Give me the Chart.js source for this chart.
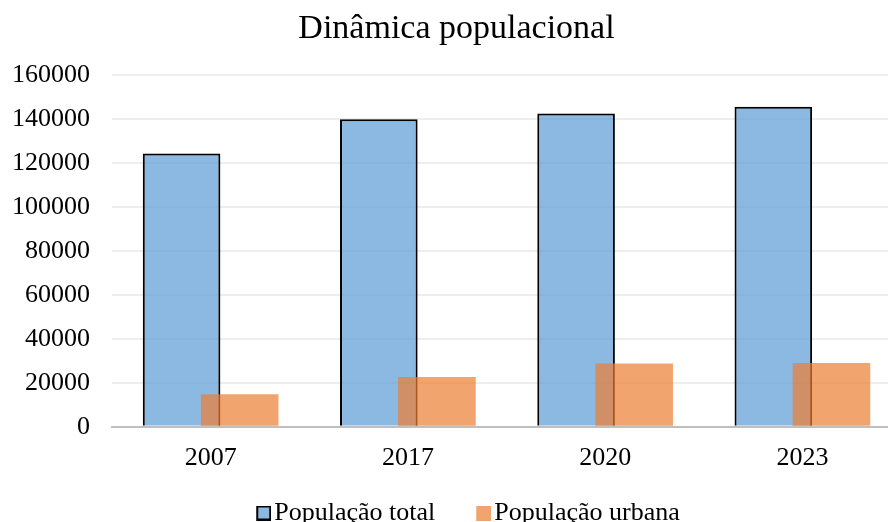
<!DOCTYPE html>
<html>
<head>
<meta charset="utf-8">
<script src="https://cdn.jsdelivr.net/npm/chart.js@4/dist/chart.umd.min.js"></script>
<style>
  html, body { margin: 0; padding: 0; background: #fff; overflow: hidden; }
  #wrap { width: 920px; height: 540px; }
</style>
</head>
<body>
<div id="wrap"><canvas id="popChart"></canvas></div>
<script>
// Chart data
const years = ["2007", "2017", "2020", "2023"];
const totalPop = [124400, 140000, 142600, 145700];
const urbanPop = [14800, 22700, 28800, 29000];
const seriesNames = ["População total", "População urbana"];

const serif = "'Liberation Serif', 'Times New Roman', serif";
const blueFill = "rgba(91, 155, 213, 0.7)";
const orangeFill = "rgba(237, 125, 49, 0.7)";

// legend marker: small square pushed to the right of a wider transparent image,
// so the gap between the square and its text is small like in Excel
function legendMarker(fill, stroke) {
    const c = document.createElement("canvas");
    c.width = 48;
    c.height = 15;
    const g = c.getContext("2d");
    g.fillStyle = fill;
    g.fillRect(33, 0, 15, 15);
    if (stroke) {
        g.strokeStyle = stroke;
        g.lineWidth = 2;
        g.strokeRect(34, 1, 13, 13);
    }
    return c;
}

// draw blue first, orange on top (keeps blue on the left of each group)
const drawOrder = {
    id: "drawOrder",
    beforeDatasetsDraw(chart) {
        [0, 1].forEach((i) => chart.getDatasetMeta(i).controller.draw());
        return false;
    },
};

const ctx = document.getElementById("popChart").getContext("2d");
new Chart(ctx, {
    type: "bar",
    data: {
        labels: years,
        datasets: [
            {
                label: seriesNames[0],
                data: totalPop,
                backgroundColor: blueFill,
                borderColor: "#000",
                borderWidth: 2,
                categoryPercentage: 0.589,
                barPercentage: 1.336,
                pointStyle: legendMarker(blueFill, "#000"),
            },
            {
                label: seriesNames[1],
                data: urbanPop,
                backgroundColor: orangeFill,
                borderWidth: 0,
                categoryPercentage: 0.589,
                barPercentage: 1.336,
                pointStyle: legendMarker(orangeFill),
            },
        ],
    },
    options: {
        responsive: true,
        maintainAspectRatio: false,
        animation: false,
        layout: { padding: { left: 12, right: 19, top: 3, bottom: 4 } },
        plugins: {
            title: {
                display: true,
                text: "Dinâmica populacional",
                color: "#000",
                font: { family: serif, size: 34, weight: "normal" },
                padding: { top: 5.5, bottom: 26 },
            },
            legend: {
                position: "bottom",
                labels: {
                    color: "#000",
                    font: { family: serif, size: 26 },
                    usePointStyle: true,
                    pointStyleWidth: 28,
                    boxHeight: 15,
                    padding: 18,
                },
            },
            tooltip: { enabled: false },
        },
        scales: {
            x: {
                grid: { display: false },
                border: { color: "#bfbfbf", width: 2 },
                ticks: { color: "#000", font: { family: serif, size: 26 }, padding: 8 },
            },
            y: {
                min: 0,
                max: 160000,
                afterFit: (scale) => { scale.width = 100; },
                ticks: {
                    stepSize: 20000,
                    color: "#000",
                    font: { family: serif, size: 26 },
                    padding: 22,
                    callback: (v) => String(v),
                },
                grid: { color: "#eeeeee", lineWidth: 2, drawTicks: false },
                border: { display: false },
            },
        },
    },
    plugins: [drawOrder],
});
</script>
</body>
</html>
